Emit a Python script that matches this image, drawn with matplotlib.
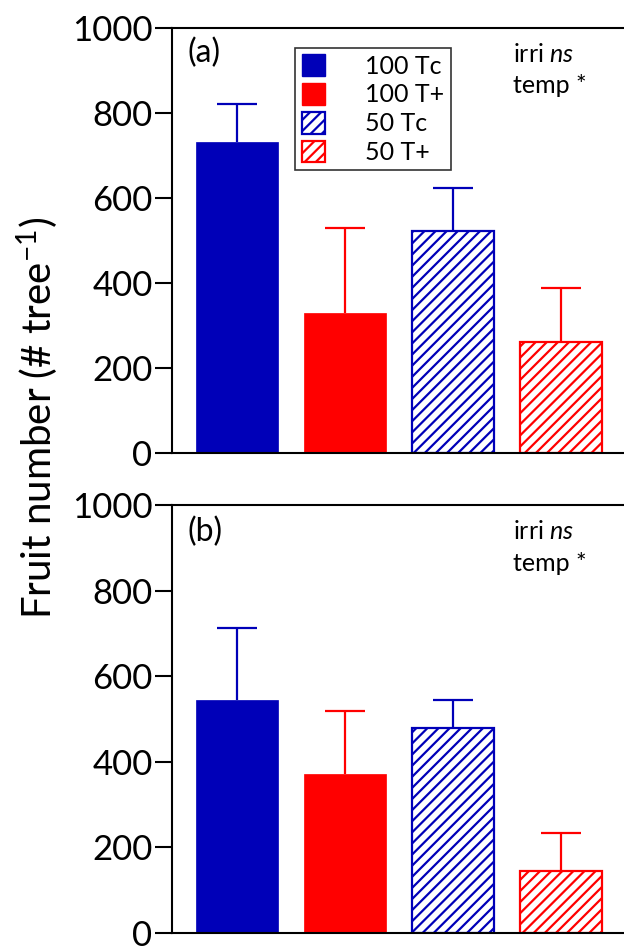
import matplotlib
matplotlib.use("Agg")
import matplotlib.pyplot as plt
from matplotlib.patches import Patch

plt.rcParams["font.family"] = ["Lato", "DejaVu Sans"]
plt.rcParams["mathtext.fontset"] = "custom"
plt.rcParams["mathtext.rm"] = "Lato"
plt.rcParams["mathtext.it"] = "Lato:italic"
plt.rcParams["hatch.linewidth"] = 1.6

treatments = ["100 Tc", "100 T+", "50 Tc", "50 T+"]
fruit_a = [732, 329, 522, 261]
err_a = [89, 200, 102, 127]
fruit_b = [544, 371, 479, 145]
err_b = [169, 148, 65, 89]
stats_text = "irri $\\it{ns}$\ntemp *"

blue = "#0000b8"
red = "#ff0000"
colors = [blue, red, blue, red]
hatched = [False, False, True, True]

fig = plt.figure(figsize=(6.24, 9.5), dpi=100)
ax_a = fig.add_axes([172 / 624, 1 - 453 / 950, 1 - 172 / 624, (453 - 28) / 950])
ax_b = fig.add_axes([172 / 624, 1 - 933 / 950, 1 - 172 / 624, (933 - 505) / 950])

bar_w = 0.76
cap_half = 0.185


def draw_panel(ax, values, errors, label, label_y):
    for i, (v, e) in enumerate(zip(values, errors)):
        if hatched[i]:
            ax.bar(i, v, width=bar_w, color="white", edgecolor=colors[i],
                   hatch="///", linewidth=1.6, zorder=2)
        else:
            ax.bar(i, v, width=bar_w, color=colors[i], edgecolor=colors[i],
                   linewidth=0.5, zorder=2)
        # upper error bar only
        ax.vlines(i, v, v + e, colors=colors[i], linewidth=1.6, zorder=1)
        ax.hlines(v + e, i - cap_half, i + cap_half, colors=colors[i],
                  linewidth=1.6, zorder=1)
    ax.set_xlim(-0.6, 3.58)
    ax.set_ylim(0, 1000)
    ax.set_yticks([0, 200, 400, 600, 800, 1000])
    ax.tick_params(axis="y", direction="out", length=12, width=1.5,
                   labelsize=25, pad=2)
    ax.tick_params(axis="x", bottom=False, labelbottom=False)
    ax.spines["right"].set_visible(False)
    for s in ["left", "top", "bottom"]:
        ax.spines[s].set_linewidth(1.5)
    ax.text(0.035, label_y, label, transform=ax.transAxes, fontsize=23,
            va="top", ha="left")
    ax.text(0.755, 0.965, stats_text, transform=ax.transAxes, fontsize=18,
            va="top", ha="left", linespacing=1.45)


draw_panel(ax_a, fruit_a, err_a, "(a)", 0.978)
draw_panel(ax_b, fruit_b, err_b, "(b)", 0.972)

handles = []
for i, t in enumerate(treatments):
    if hatched[i]:
        handles.append(Patch(facecolor="white", edgecolor=colors[i], hatch="///",
                             linewidth=1.6, label=t))
    else:
        handles.append(Patch(facecolor=colors[i], edgecolor=colors[i], label=t))
leg = ax_a.legend(handles=handles, loc="upper left",
                  bbox_to_anchor=(0.273, 0.953), fontsize=18, frameon=True,
                  fancybox=False, edgecolor="black", handlelength=0.95,
                  handleheight=0.95, handletextpad=1.6, labelspacing=0.22,
                  borderpad=0.25, borderaxespad=0)
leg.get_frame().set_linewidth(1.2)

fig.text(38 / 624, 1 - 418 / 950, "Fruit number (# tree$^{-1}$)",
         rotation=90, fontsize=29, ha="center", va="center")

fig.savefig("out.png", dpi=100)
